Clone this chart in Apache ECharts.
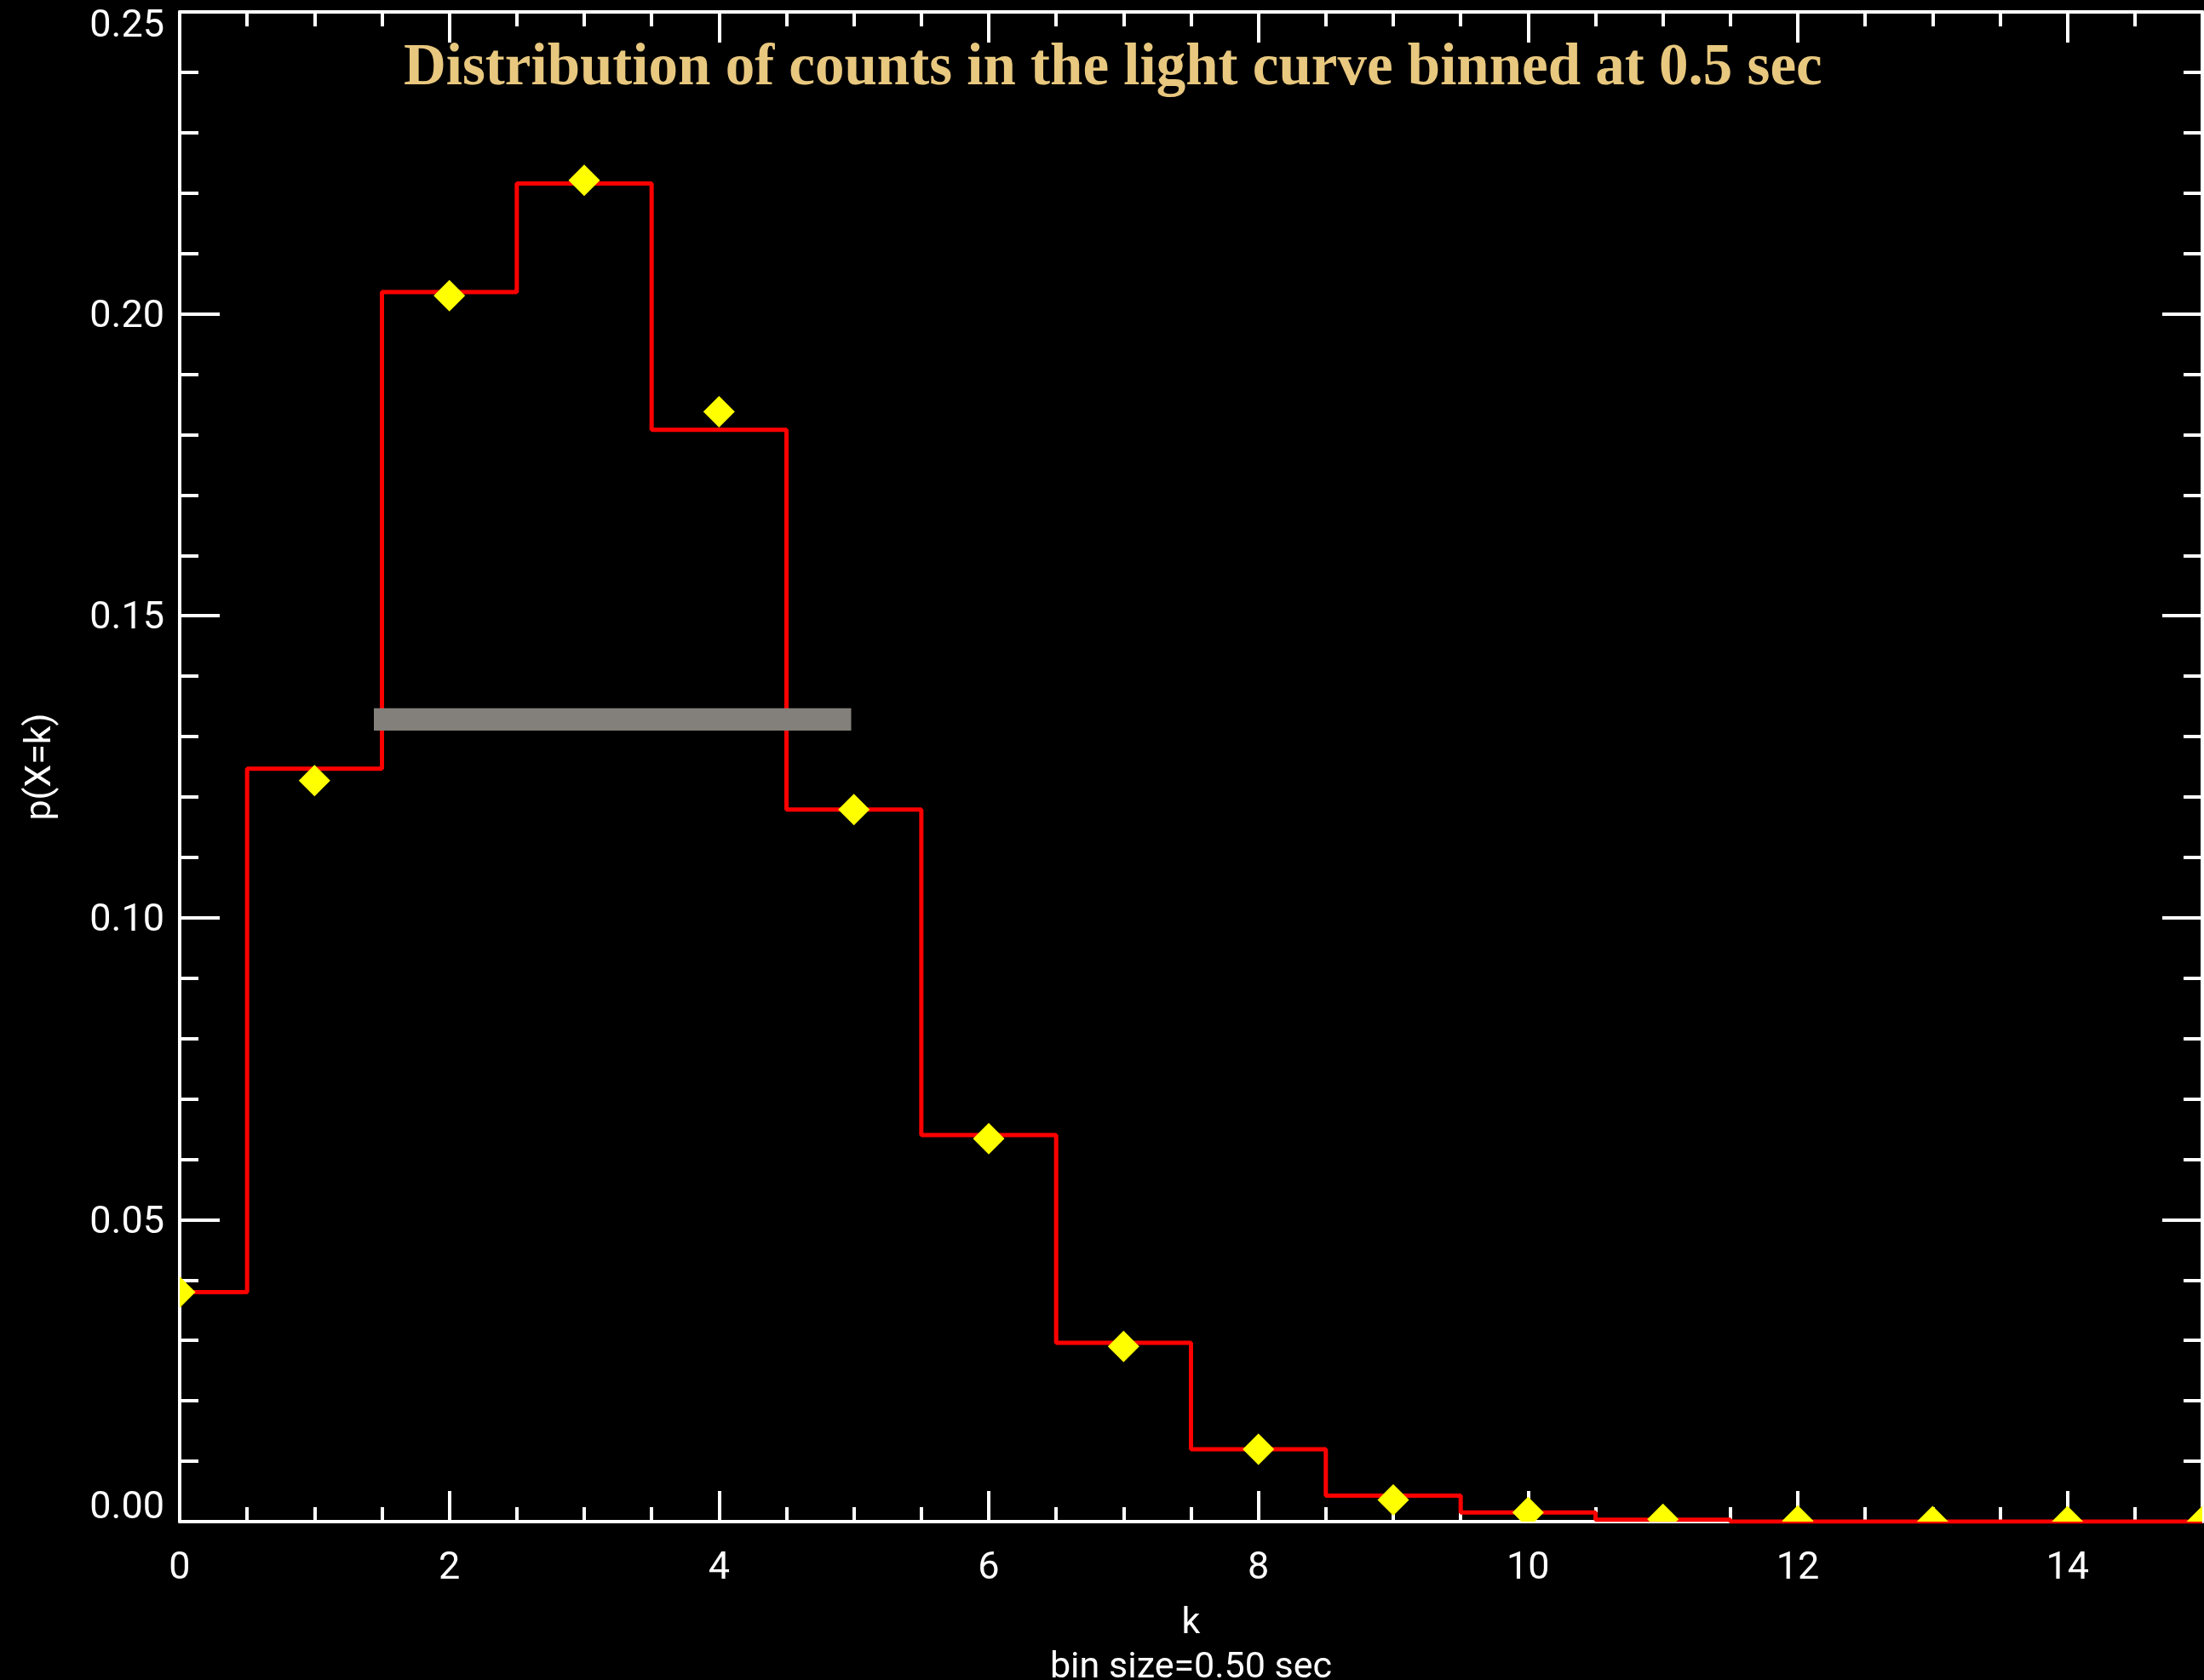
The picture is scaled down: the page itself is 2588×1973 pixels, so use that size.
<!DOCTYPE html>
<html>
<head>
<meta charset="utf-8">
<script src="https://cdn.jsdelivr.net/npm/echarts@6/dist/echarts.min.js"></script>
<style>
  html, body { margin: 0; padding: 0; background: #000; }
  #chart { width: 2588px; height: 1973px; }
</style>
</head>
<body>
<div id="chart"></div>
<script>
// Counts per 0.5 s bin: k and the measured probability p(X=k)
const kValues = [0, 1, 2, 3, 4, 5, 6, 7, 8, 9, 10, 11, 12, 13, 14, 15];
const observedP = [0.0380, 0.1247, 0.2036, 0.2216, 0.1808, 0.1179, 0.0640, 0.0296,
                   0.0120, 0.0043, 0.0015, 0.0003, 0.0000, 0.0000, 0.0000, 0.0000];
// Model probabilities shown as diamonds
const modelP = [0.0380, 0.1227, 0.2030, 0.2221, 0.1838, 0.1179, 0.0634, 0.0290,
                0.0120, 0.0036, 0.0015, 0.0004, 0.0001, 0.0000, 0.0000, 0.0000];
// Grey horizontal band: k range and p range
const bandK = [1.44, 4.98];
const bandP = [0.1310, 0.1347];

const xTickValues = [0, 2, 4, 6, 8, 10, 12, 14];
const xTickLabels = ['0', '2', '4', '6', '8', '10', '12', '14'];
const yTickValues = [0, 0.05, 0.10, 0.15, 0.20, 0.25];
const yTickLabels = ['0.00', '0.05', '0.10', '0.15', '0.20', '0.25'];

const titleText = 'Distribution of counts in the light curve binned at 0.5 sec';
const xName = 'k\nbin size=0.50 sec';
const yName = 'p(X=k)';

const FONT = 'Roboto, "DejaVu Sans", sans-serif';
const WHITE = '#ffffff';
const AXIS_W = 4;

function labelFor(values, labels, v) {
  for (let i = 0; i < values.length; i++) {
    if (Math.abs(values[i] - v) < 1e-9) return labels[i];
  }
  return '';
}

const X_MIN = 0, X_MAX = 15, Y_MIN = 0, Y_MAX = 0.25;

function tickStyle(len) {
  return { show: true, inside: true, length: len, lineStyle: { color: WHITE, width: AXIS_W } };
}
const hiddenLine = { show: false, onZero: false };
const frameLine = { show: true, onZero: false, lineStyle: { color: WHITE, width: AXIS_W } };

function xAxisDef(opts) {
  return Object.assign({
    type: 'value', min: X_MIN, max: X_MAX, gridIndex: 0,
    splitLine: { show: false },
    axisLine: hiddenLine,
    axisLabel: { show: false },
    axisTick: tickStyle(17)
  }, opts);
}
function yAxisDef(opts) {
  return Object.assign({
    type: 'value', min: Y_MIN, max: Y_MAX, gridIndex: 0,
    splitLine: { show: false },
    axisLine: hiddenLine,
    axisLabel: { show: false },
    axisTick: tickStyle(22)
  }, opts);
}

const Y_FS = 45;
const chart = echarts.init(document.getElementById('chart'), null, { renderer: 'canvas' });

chart.setOption({
  backgroundColor: '#000000',
  animation: false,
  title: {
    text: titleText,
    left: 474,
    top: 47,
    padding: 0,
    textStyle: {
      fontFamily: '"Liberation Serif", "DejaVu Serif", serif',
      fontWeight: 'bold',
      fontSize: 69,
      lineHeight: 69,
      color: '#e8c87f'
    }
  },
  grid: { left: 211, right: 2, top: 14, bottom: 186, containLabel: false, outerBoundsMode: 'none' },
  xAxis: [
    // bottom: major ticks, labels and axis name
    xAxisDef({
      position: 'bottom', interval: 2,
      axisLine: frameLine,
      axisTick: tickStyle(36),
      axisLabel: {
        show: true, margin: 33, color: WHITE, fontFamily: FONT, fontSize: 45, lineHeight: 45,
        showMaxLabel: false,
        formatter: v => labelFor(xTickValues, xTickLabels, v)
      },
      name: xName, nameLocation: 'middle', nameGap: 94,
      nameTextStyle: { color: WHITE, fontFamily: FONT, fontSize: 43, lineHeight: 52 }
    }),
    // bottom: minor ticks
    xAxisDef({ position: 'bottom', interval: 0.5 }),
    // top mirror
    xAxisDef({ position: 'top', interval: 2, axisLine: frameLine, axisTick: tickStyle(36) }),
    xAxisDef({ position: 'top', interval: 0.5 })
  ],
  yAxis: [
    // left: major ticks, labels and axis name
    yAxisDef({
      position: 'left', interval: 0.05,
      axisLine: frameLine,
      axisTick: tickStyle(47),
      axisLabel: {
        show: true, margin: 18, color: WHITE, fontFamily: FONT, fontSize: Y_FS,
        formatter: v => {
          const t = labelFor(yTickValues, yTickLabels, v);
          if (!t) return '';
          if (Math.abs(v - Y_MAX) < 1e-9) return '{hi|' + t + '}';
          if (Math.abs(v - Y_MIN) < 1e-9) return '{lo|' + t + '}';
          return '{md|' + t + '}';
        },
        rich: {
          hi: { color: WHITE, fontFamily: FONT, fontSize: Y_FS, lineHeight: Y_FS, padding: [36, 0, 0, 0] },
          lo: { color: WHITE, fontFamily: FONT, fontSize: Y_FS, lineHeight: Y_FS, padding: [0, 0, 30, 0] },
          md: { color: WHITE, fontFamily: FONT, fontSize: Y_FS, lineHeight: Y_FS, padding: [8, 0, 0, 0] }
        }
      },
      name: yName, nameLocation: 'middle', nameGap: 141,
      nameTextStyle: { color: WHITE, fontFamily: FONT, fontSize: 43, lineHeight: 43 }
    }),
    yAxisDef({ position: 'left', interval: 0.01 }),
    // right mirror
    yAxisDef({ position: 'right', interval: 0.05, axisLine: frameLine, axisTick: tickStyle(47) }),
    yAxisDef({ position: 'right', interval: 0.01 })
  ],
  series: [
    {
      name: 'observed',
      type: 'line',
      step: 'middle',
      xAxisIndex: 0, yAxisIndex: 0,
      data: kValues.map((k, i) => [k, observedP[i]]),
      showSymbol: false,
      symbol: 'none',
      clip: true,
      z: 3,
      lineStyle: { color: '#ff0000', width: 5 }
    },
    {
      name: 'band',
      type: 'custom',
      xAxisIndex: 0, yAxisIndex: 0,
      clip: true,
      z: 4,
      data: [[bandK[0], bandK[1], bandP[0], bandP[1]]],
      renderItem: (params, api) => {
        const a = api.coord([api.value(0), api.value(3)]);
        const b = api.coord([api.value(1), api.value(2)]);
        return {
          type: 'rect',
          shape: { x: a[0], y: a[1], width: b[0] - a[0], height: b[1] - a[1] },
          style: { fill: '#837f7b' }
        };
      }
    },
    {
      name: 'model',
      type: 'custom',
      xAxisIndex: 0, yAxisIndex: 0,
      clip: true,
      z: 5,
      data: kValues.map((k, i) => [k, modelP[i]]),
      renderItem: (params, api) => {
        const c = api.coord([api.value(0), api.value(1)]);
        const r = 18.5;
        return {
          type: 'polygon',
          shape: { points: [[c[0], c[1] - r], [c[0] + r, c[1]], [c[0], c[1] + r], [c[0] - r, c[1]]] },
          style: { fill: '#ffff00' }
        };
      }
    }
  ]
});
</script>
</body>
</html>
